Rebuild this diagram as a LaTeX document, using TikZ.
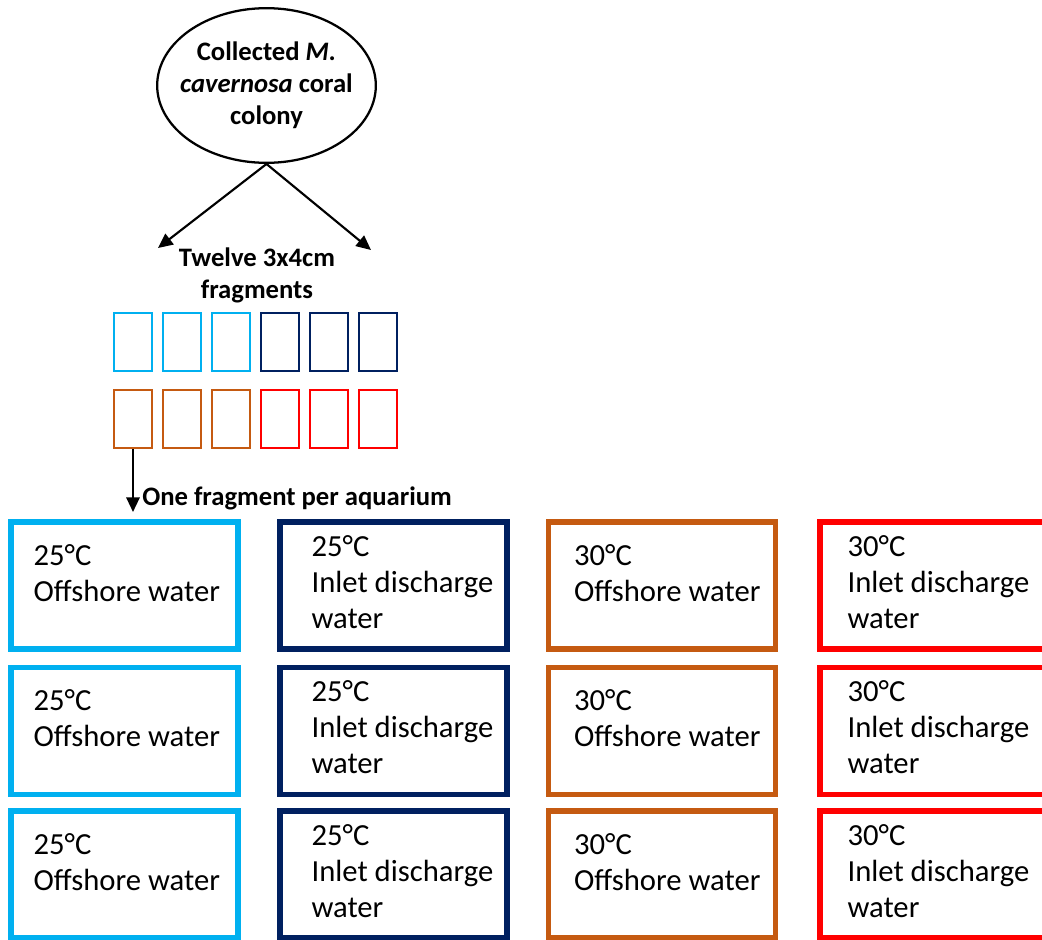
\documentclass[tikz,border=0pt]{standalone}
\usepackage{fontspec}
\setmainfont{Carlito}
\usetikzlibrary{arrows.meta,positioning,calc,shapes.geometric}
\definecolor{skyblue}{HTML}{00B0F0}
\definecolor{navyblue}{HTML}{002060}
\definecolor{rust}{HTML}{C55A11}
\definecolor{brightred}{HTML}{FF0000}

\begin{document}
\begin{tikzpicture}[x=0.75pt,y=-0.75pt,
  title/.style={font=\fontsize{20pt}{24pt}\selectfont\bfseries, align=center, inner sep=0pt},
  frag/.style={draw=#1, line width=1.6pt, minimum width=28.5pt, minimum height=44pt, inner sep=0pt},
  tank/.style={draw=#1, line width=4.1pt, minimum width=170.25pt, minimum height=95.25pt, inner sep=0pt},
  tanktext/.style={font=\fontsize{23pt}{27pt}\selectfont, align=left, anchor=base west, inner sep=0pt},
  arrow/.style={-{Triangle[length=11pt,width=10pt]}, line width=1.6pt}]
\useasboundingbox (0,0) rectangle (1042,939);

% collected colony
\node (colony) [draw, ellipse, line width=1.7pt, minimum width=164pt, minimum height=116pt] at (266.5,85.5) {};
\node (colonytext) [title] at (colony.center) {Collected \textit{M.}\\\textit{cavernosa} coral\\colony};

% split into fragments
\node (fragtext) [title, anchor=base] at (257,298) {Twelve 3x4cm\\fragments};
\coordinate (splitleft) at (158,248);
\coordinate (splitright) at (371,250);
\draw[arrow] (colony.south) -- (splitleft);
\draw[arrow] (colony.south) -- (splitright);

\foreach \i/\c in {1/skyblue,2/skyblue,3/skyblue,4/navyblue,5/navyblue,6/navyblue}
  \node (top\i) [frag=\c] at (84+49*\i,342) {};
\foreach \i/\c in {1/rust,2/rust,3/rust,4/brightred,5/brightred,6/brightred}
  \node (bot\i) [frag=\c] at (84+49*\i,419) {};

% one per aquarium
\coordinate (drop) at (133,512);
\draw[arrow] (bot1.south) -- (drop);
\node (pertank) [title, anchor=base west] at (142,505) {One fragment per aquarium};

\foreach \r/\y in {1/585.5,2/731,3/874.5} {
  \node (offcool\r) [tank=skyblue] at (124.5,\y) {};
  \node (offcooltext\r) [tanktext] at ($(offcool\r.north west)+(25,82)$) {25°C\\Offshore water};
  \node (inletcool\r) [tank=navyblue] at (393.5,\y) {};
  \node (inletcooltext\r) [tanktext] at ($(inletcool\r.north west)+(34,109)$) {25°C\\Inlet discharge\\water};
  \node (offwarm\r) [tank=rust] at (662,\y) {};
  \node (offwarmtext\r) [tanktext] at ($(offwarm\r.north west)+(28,82)$) {30°C\\Offshore water};
  \node (inletwarm\r) [tank=brightred] at (933.5,\y) {};
  \node (inletwarmtext\r) [tanktext] at ($(inletwarm\r.north west)+(30,109)$) {30°C\\Inlet discharge\\water};
}
\end{tikzpicture}
\end{document}
